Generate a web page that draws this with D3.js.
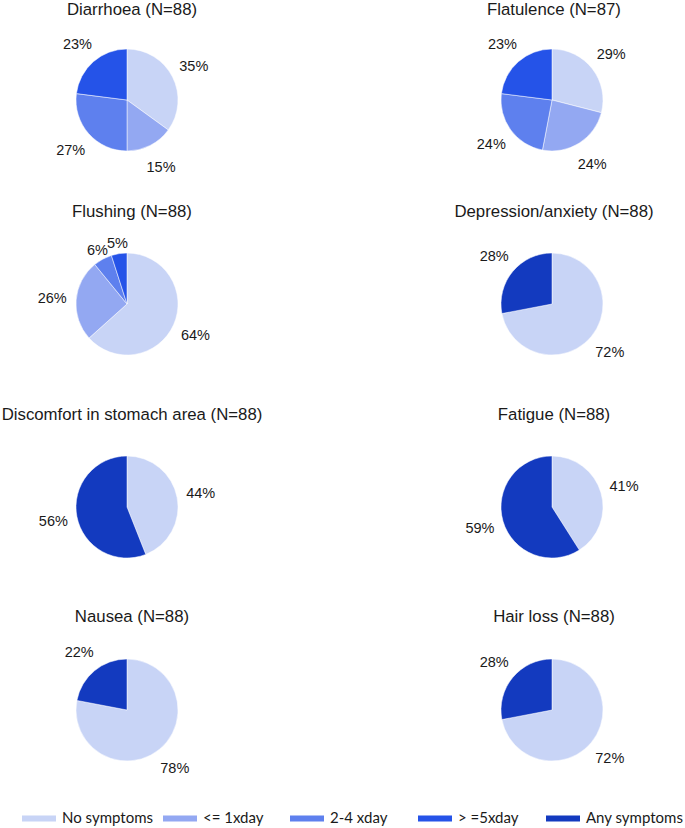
<!DOCTYPE html>
<html>
<head>
<meta charset="utf-8">
<script src="https://cdn.jsdelivr.net/npm/d3@7"></script>
<style>
  html, body { margin: 0; padding: 0; background: #fff; }
  svg { display: block; }
</style>
</head>
<body>
<div id="chart"></div>
<script>
// symptom pies, percentages per response category
const titles = ['Diarrhoea (N=88)', 'Flatulence (N=87)', 'Flushing (N=88)', 'Depression/anxiety (N=88)',
    'Discomfort in stomach area (N=88)', 'Fatigue (N=88)', 'Nausea (N=88)', 'Hair loss (N=88)'];
const categories = ['No symptoms', '<= 1xday', '2-4 xday', '> =5xday', 'Any symptoms'];
const noSymptoms  = [35, 29, 64, 72, 44, 41, 78, 72];
const upToOnce    = [15, 24, 26, 0, 0, 0, 0, 0];
const twoToFour   = [27, 24, 6, 0, 0, 0, 0, 0];
const fivePlus    = [23, 23, 5, 0, 0, 0, 0, 0];
const anySymptoms = [0, 0, 0, 28, 56, 59, 22, 28];
const colors = ['#c8d4f6', '#93a8f2', '#5e80ee', '#2553e8', '#133abf'];

const width = 685, height = 828;
const radius = 51;
const colX = [127, 552];
const titleX = [132, 554];
const rowY = [100, 304, 507, 710];
const titleY = [15, 217, 420, 622];
const legendX = [22, 163, 290, 418, 546];

const color = d3.scaleOrdinal().domain(categories).range(colors);

const svg = d3.select('#chart').append('svg')
    .attr('width', width)
    .attr('height', height)
    .style('font-family', '"Liberation Sans", Arial, Helvetica, sans-serif');

const pie = d3.pie().sort(null).value(d => d.value);
const arc = d3.arc().innerRadius(0).outerRadius(radius);
const labelArc = d3.arc().innerRadius(75).outerRadius(75);
const labelArcSmall = d3.arc().innerRadius(62).outerRadius(62);

titles.forEach((title, i) => {
    const col = i % 2, row = Math.floor(i / 2);
    const values = [noSymptoms[i], upToOnce[i], twoToFour[i], fivePlus[i], anySymptoms[i]];
    const slices = categories.map((c, k) => ({ cat: c, value: values[k] })).filter(d => d.value > 0);

    svg.append('text')
        .attr('x', titleX[col])
        .attr('y', titleY[row])
        .attr('text-anchor', 'middle')
        .attr('font-size', 16.8)
        .attr('fill', '#1a1a1a')
        .text(title);

    const g = svg.append('g').attr('transform', `translate(${colX[col]},${rowY[row]})`);
    const arcs = pie(slices);

    g.selectAll('path')
        .data(arcs)
        .enter().append('path')
        .attr('d', arc)
        .attr('fill', d => color(d.data.cat))
        .attr('stroke', '#fff')
        .attr('stroke-width', 0.5);

    g.selectAll('text')
        .data(arcs)
        .enter().append('text')
        .attr('transform', d => `translate(${(d.data.value < 10 ? labelArcSmall : labelArc).centroid(d)})`)
        .attr('text-anchor', 'middle')
        .attr('dy', '0.36em')
        .attr('font-size', 14.5)
        .attr('fill', '#1a1a1a')
        .text(d => d.data.value + '%');
});

// legend
const legend = svg.append('g').attr('transform', 'translate(0,818.5)');
const item = legend.selectAll('g')
    .data(categories)
    .enter().append('g')
    .attr('transform', (d, i) => `translate(${legendX[i]},0)`);

item.append('rect')
    .attr('x', 0)
    .attr('y', -3)
    .attr('width', 34)
    .attr('height', 6)
    .attr('fill', d => color(d));

item.append('text')
    .attr('x', 40)
    .attr('y', 4.8)
    .attr('font-size', 15)
    .style('font-family', 'Lato, "Open Sans", sans-serif')
    .attr('fill', '#1a1a1a')
    .text(d => d);
</script>
</body>
</html>
